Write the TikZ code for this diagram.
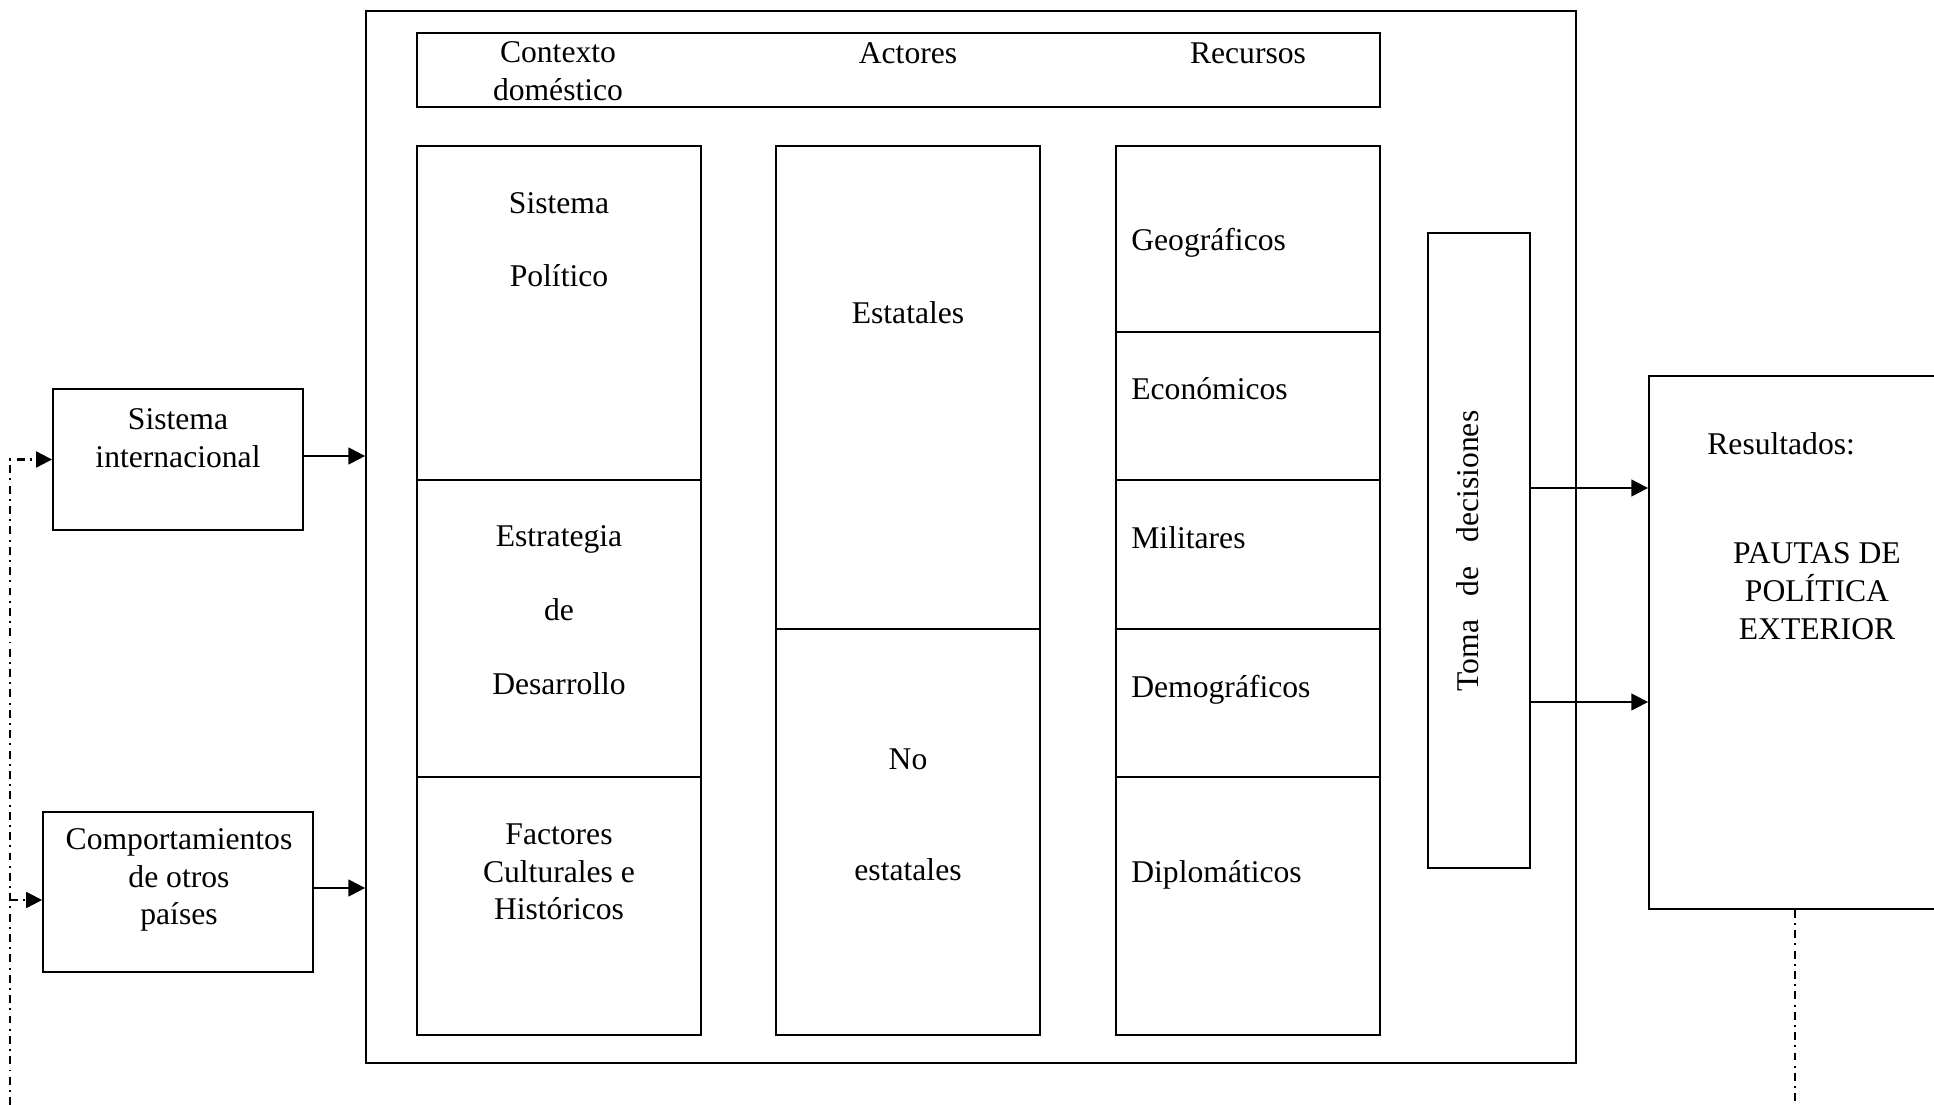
\documentclass[tikz,border=0pt]{standalone}
\usepackage{fontspec}
\setmainfont{Liberation Serif}
\usepackage{tikz}
\usetikzlibrary{arrows.meta,calc}
\tikzstyle{cell}=[draw,line width=1.1pt,inner sep=0pt]
\tikzstyle{lbl}=[font=\fontsize{18}{21.5}\selectfont,align=center,inner sep=0pt]
\tikzstyle{arr}=[line width=1.2pt,-{Triangle[length=9.5pt,width=9.5pt]}]
\tikzstyle{fb}=[line width=1.2pt,dash pattern=on 4.5pt off 3pt on 1.1pt off 3pt,-{Triangle[length=9pt,width=9pt]}]

\begin{document}
\begin{tikzpicture}[x=0.02cm,y=-0.02cm]

    \useasboundingbox (0,0) rectangle (1934,1105);

    % big frame and header
    \node[cell, minimum width=24.2cm, minimum height=21.04cm] (main) at (971,537) {};
    \node[cell, minimum width=19.26cm, minimum height=1.48cm] (hdr) at (898.5,70) {};

    % three columns
    \foreach \pos/\name/\w/\h in {{(559,313)/pol/5.68/6.68}, {(559,628.5)/estr/5.68/5.94}, {(559,906)/fact/5.68/5.16},
                                  {(908,387.5)/sta/5.28/9.66}, {(908,832)/nosta/5.28/8.12},
                                  {(1248,239)/geo/5.28/3.72}, {(1248,406)/eco/5.28/2.96}, {(1248,554.5)/mil/5.28/2.98},
                                  {(1248,703)/dem/5.28/2.96}, {(1248,906)/dip/5.28/5.16}}
        \node[cell, minimum width=\w cm, minimum height=\h cm] (\name) at \pos {};

    % side boxes
    \node[cell, minimum width=5cm, minimum height=2.82cm] (si) at (178,459.5) {};
    \node[cell, minimum width=5.4cm, minimum height=3.2cm] (comp) at (178,892) {};
    \node[cell, minimum width=2.04cm, minimum height=12.7cm] (toma) at (1479,550.5) {};
    \node[cell, minimum width=6.82cm, minimum height=10.66cm] (res) at (1819.5,642.5) {};

    % texts
    \node[lbl] at (558,71) {Contexto\\doméstico};
    \node[lbl] at (908,53) {Actores};
    \node[lbl] at (1248,53) {Recursos};

    \foreach \pos/\txt in {{(559,203)/Sistema}, {(559,276)/Político}, {(559,539)/Estrategia}, {(559,610)/de},
                           {(559,684)/Desarrollo}, {(908,313)/Estatales}, {(908,759)/No}, {(908,870)/estatales}}
        \node[lbl] at \pos {\txt};
    \node[lbl] at (559,872) {Factores\\Culturales e\\Históricos};

    \foreach \yy/\txt in {243/Geográficos, 389/Económicos, 538/Militares, 690/Demográficos, 875/Diplomáticos}
        \node[lbl, anchor=west] at (1131,\yy) {\txt};

    \node[lbl] at (178,438.5) {Sistema\\internacional};
    \node[lbl] at (179,880) {Comportamientos\\de otros\\países};
    \node[lbl, rotate=90] at (1468,551) {Toma\hspace{0.75em}de\hspace{0.75em}decisiones};
    \node[lbl, anchor=west] at (1707,444) {Resultados:};
    \node[lbl] at (1817,591) {PAUTAS DE\\POLÍTICA\\EXTERIOR};

    % arrows
    \coordinate (se) at ([yshift=0.07cm]si.east);
    \coordinate (ce) at ([yshift=0.08cm]comp.east);
    \draw[arr] (se) -- (se -| main.west);
    \draw[arr] (ce) -- (ce -| main.west);
    \foreach \yy in {488,702}
        \draw[arr] (toma.east |- 0,\yy) -- (res.west |- 0,\yy);

    % feedback lines
    \coordinate (fbl) at (10,1105);
    \coordinate (fbr) at (1795,1105);
    \coordinate (cw) at ([yshift=-0.16cm]comp.west);
    \draw[fb] (fbl) |- (si.west);
    \draw[fb] (fbl |- cw) -- (cw);
    \draw[fb, -] (fbr |- res.south) -- (fbr);

\end{tikzpicture}
\end{document}
